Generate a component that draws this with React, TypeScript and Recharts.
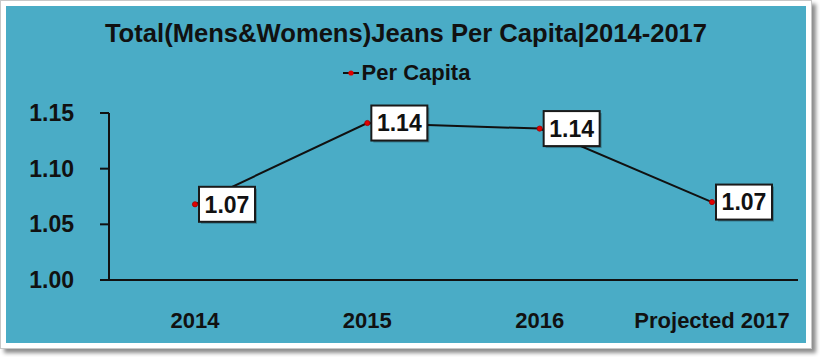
import React from 'react'
import { LineChart, Line, XAxis, YAxis, Legend, LabelList } from 'recharts'

const years = ['2014', '2015', '2016', 'Projected 2017']
const perCapita = [1.068, 1.141, 1.136, 1.07]
const yTicks = [1.0, 1.05, 1.1, 1.15]

const data = years.map((year, i) => ({ year, perCapita: perCapita[i] }))

const FONT = '"Liberation Sans", Arial, sans-serif'
const TEAL = '#4aacc6'

function ValueBox(props: any) {
  const { x, y, value } = props
  const w = 56
  const h = 35
  const bx = x + 4
  const by = y - h / 2
  return (
    <g>
      <rect x={bx + 2} y={by + 2} width={w} height={h} fill="#000" opacity={0.25} />
      <rect x={bx} y={by} width={w} height={h} fill="#fff" stroke="#1a1a1a" strokeWidth={2} />
      <text
        x={bx + w / 2}
        y={by + h / 2}
        dy="0.36em"
        textAnchor="middle"
        fontFamily={FONT}
        fontWeight="bold"
        fontSize={23}
        fill="#111"
      >
        {Number(value).toFixed(2)}
      </text>
    </g>
  )
}

function RedDot(props: any) {
  const { cx, cy } = props
  return <circle cx={cx} cy={cy} r={2.6} fill="#e00000" stroke="#a00000" strokeWidth={0.8} />
}

function LegendContent() {
  return (
    <div style={{ height: 26, display: 'flex', justifyContent: 'center', alignItems: 'center' }}>
      <svg width={18} height={26} style={{ marginRight: 2 }}>
        <line x1={1} y1={13} x2={17} y2={13} stroke="#111" strokeWidth={2} />
        <circle cx={9} cy={13} r={2.6} fill="#e00000" />
      </svg>
      <span style={{ fontFamily: FONT, fontWeight: 'bold', fontSize: 22, color: '#111' }}>Per Capita</span>
    </div>
  )
}

export default function App() {
  return (
    <div style={{ position: 'absolute', left: 0, top: 0, width: 820, height: 357 }}>
      {/* white frame with shadow */}
      <div style={{
        position: 'absolute', left: 0, top: 0, width: 810, height: 347,
        background: '#fff', border: '1px solid #c8c8c8',
        boxShadow: '4px 4px 4px rgba(0,0,0,0.45)',
      }} />
      <div style={{ position: 'absolute', left: 6, top: 6, width: 800, height: 337, background: TEAL }}>
        <div style={{
          position: 'absolute', left: 0, top: 12, width: 800, height: 30, lineHeight: '30px',
          textAlign: 'center', fontFamily: FONT, fontWeight: 'bold', fontSize: 25.6, color: '#111',
        }}>
          Total(Mens&amp;Womens)Jeans Per Capita|2014-2017
        </div>
        <LineChart width={800} height={337} data={data} margin={{ top: 81, right: 8, left: 0, bottom: 0 }}>
          <Legend
            verticalAlign="top"
            content={<LegendContent />}
            wrapperStyle={{ top: 54, left: 0, width: 800 }}
          />
          <XAxis
            dataKey="year"
            height={63}
            padding={{ left: 86, right: 86 }}
            tickLine={false}
            axisLine={{ stroke: '#111', strokeWidth: 2 }}
            tickMargin={26}
            tick={{ fill: '#111', fontFamily: FONT, fontWeight: 'bold', fontSize: 22 }}
          />
          <YAxis
            width={103}
            domain={[1.0, 1.15]}
            ticks={yTicks}
            tickFormatter={(v: number) => v.toFixed(2)}
            axisLine={{ stroke: '#111', strokeWidth: 2 }}
            tickLine={{ stroke: '#111', strokeWidth: 2 }}
            tickSize={9}
            tickMargin={26}
            tick={{ fill: '#111', fontFamily: FONT, fontWeight: 'bold', fontSize: 23 }}
          />
          <Line
            type="linear"
            dataKey="perCapita"
            name="Per Capita"
            stroke="#111"
            strokeWidth={2}
            dot={<RedDot />}
            activeDot={false}
            isAnimationActive={false}
          >
            <LabelList dataKey="perCapita" content={<ValueBox />} />
          </Line>
        </LineChart>
      </div>
    </div>
  )
}
